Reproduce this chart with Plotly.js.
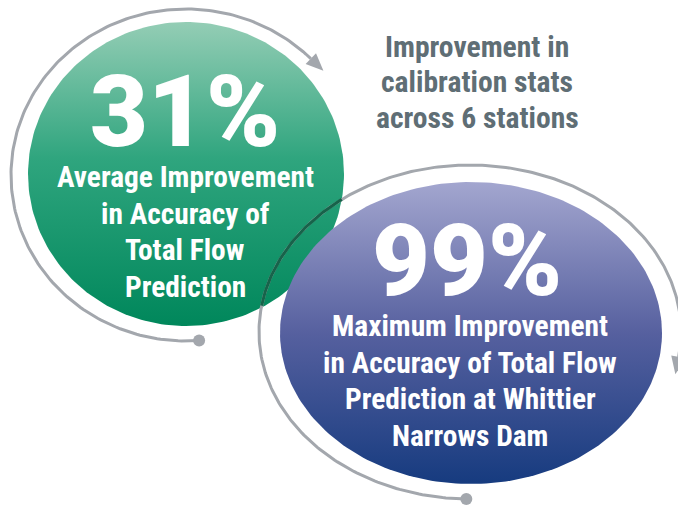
<!DOCTYPE html>
<html>
<head>
<meta charset="utf-8">
<script src="https://cdn.plot.ly/plotly-3.0.1.min.js"></script>
<style>html,body{margin:0;padding:0;background:#fff;}#chart{width:678px;height:508px;}</style>
</head>
<body>
<div id="chart"></div>
<script>
// ---- data ----
var statValues = [31, 99];
var statSuffix = "%";
var statLabels = [
  ["Average Improvement", "in Accuracy of", "Total Flow", "Prediction"],
  ["Maximum Improvement", "in Accuracy of Total Flow", "Prediction at Whittier", "Narrows Dam"]
];
var headline = ["Improvement in", "calibration stats", "across 6 stations"];

// ---- geometry (decor) ----
var W = 678, H = 508;
var FONT = "Roboto Condensed, Liberation Sans Narrow, DejaVu Sans Condensed, Roboto, sans-serif";
var gray = "#a3a7ad";

function ell(cx, cy, rx, ry, t0, t1, n) {
  var xs = [], ys = [];
  for (var i = 0; i <= n; i++) {
    var t = (t0 + (t1 - t0) * i / n) * Math.PI / 180;
    xs.push(cx + rx * Math.cos(t));
    ys.push(cy - ry * Math.sin(t));
  }
  return {x: xs, y: ys};
}
function arrowHead(cx, cy, rx, ry, tdeg, len, half) {
  var t = tdeg * Math.PI / 180;
  var bx = cx + rx * Math.cos(t), by = cy - ry * Math.sin(t);
  var dx = rx * Math.sin(t), dy = ry * Math.cos(t);
  var m = Math.sqrt(dx * dx + dy * dy); dx /= m; dy /= m;
  var px = -dy, py = dx;
  return {x: [bx + px * half, bx + dx * len, bx - px * half, bx + px * half],
          y: [by + py * half, by + dy * len, by - py * half, by + py * half]};
}

var G = {cx: 186, cy: 174, rx: 158, ry: 152};
var GR = {cx: 186, cy: 175, rx: 175, ry: 166, t0: 274.3, t1: 44.5};
var B = {cx: 471, cy: 333, rx: 191, ry: 151};
var BR = {cx: 470, cy: 332, rx: 211, ry: 167, t0: 269, t1: -8.6};

var traces = [];
function gradTrace(p, stops) {
  var e = ell(p.cx, p.cy, p.rx, p.ry, 0, 360, 240);
  return {type: "scatter", mode: "lines", x: e.x, y: e.y, fill: "toself",
    line: {width: 0}, hoverinfo: "skip", showlegend: false,
    fillgradient: {type: "vertical", start: p.cy - p.ry, stop: p.cy + p.ry, colorscale: stops}};
}
function lineTrace(x, y, color, w) {
  return {type: "scatter", mode: "lines", x: x, y: y, line: {color: color, width: w},
    hoverinfo: "skip", showlegend: false};
}
function polyTrace(p, color) {
  return {type: "scatter", mode: "lines", x: p.x, y: p.y, fill: "toself", fillcolor: color,
    line: {width: 0}, hoverinfo: "skip", showlegend: false};
}
function dotTrace(x, y, color) {
  return {type: "scatter", mode: "markers", x: [x], y: [y],
    marker: {size: 12, color: color}, hoverinfo: "skip", showlegend: false};
}

// green circle
traces.push(gradTrace(G, [[0, "#94cdb5"], [0.45, "#2fa57e"], [1, "#00875b"]]));
// green ring
var gr = ell(GR.cx, GR.cy, GR.rx, GR.ry, GR.t0, GR.t1, 200);
traces.push(lineTrace(gr.x, gr.y, gray, 3));
traces.push(polyTrace(arrowHead(GR.cx, GR.cy, GR.rx, GR.ry, GR.t1, 17.5, 7.5), gray));
traces.push(dotTrace(gr.x[0], gr.y[0], gray));
// blue ring
var br = ell(BR.cx, BR.cy, BR.rx, BR.ry, BR.t0, BR.t1, 300);
traces.push(lineTrace(br.x, br.y, gray, 3));
// part of blue ring over green circle -> darker
var ox = [], oy = [];
for (var i = 0; i < br.x.length; i++) {
  var u = (br.x[i] - G.cx) / G.rx, v = (br.y[i] - G.cy) / G.ry;
  if (u * u + v * v <= 1) { ox.push(br.x[i]); oy.push(br.y[i]); }
  else if (ox.length && ox[ox.length - 1] !== null) { ox.push(null); oy.push(null); }
}
traces.push(lineTrace(ox, oy, "#17634a", 3));
traces.push(polyTrace(arrowHead(BR.cx, BR.cy, BR.rx, BR.ry, BR.t1, 17.5, 7.5), gray));
traces.push(dotTrace(br.x[0], br.y[0], gray));
// blue ellipse
traces.push(gradTrace(B, [[0, "#a3a6cf"], [0.5, "#56609f"], [1, "#163b7f"]]));

var ann = [];
var numPos = [[185, 111], [467, 260]];
var labPos = [[185, 232], [470, 381]];
var LS = 36.5, LFS = 29.4;
for (var k = 0; k < statValues.length; k++) {
  ann.push({x: numPos[k][0], y: numPos[k][1], xref: "x", yref: "y", text: statValues[k] + statSuffix,
    showarrow: false, height: 84,
    font: {family: "Roboto, sans-serif", size: 100, color: "#ffffff", weight: 900}});
  var lines = statLabels[k];
  for (var j = 0; j < lines.length; j++) {
    ann.push({x: labPos[k][0], y: labPos[k][1] + (j - (lines.length - 1) / 2) * LS, xref: "x", yref: "y",
      text: lines[j], showarrow: false, height: 32,
      font: {family: FONT, size: LFS, color: "#ffffff", weight: "bold"}});
  }
}
for (var h = 0; h < headline.length; h++) {
  ann.push({x: 477, y: 82 + (h - 1) * 35.5, xref: "x", yref: "y", text: headline[h], showarrow: false,
    height: 32, font: {family: FONT, size: 29.6, color: "#5f6e75", weight: "bold"}});
}

var layout = {
  width: W, height: H, margin: {l: 0, r: 0, t: 0, b: 0},
  paper_bgcolor: "#ffffff", plot_bgcolor: "#ffffff", showlegend: false,
  xaxis: {range: [0, W], visible: false, fixedrange: true},
  yaxis: {range: [H, 0], visible: false, fixedrange: true},
  annotations: ann
};
Plotly.newPlot("chart", traces, layout, {staticPlot: true, displayModeBar: false});
</script>
</body>
</html>
